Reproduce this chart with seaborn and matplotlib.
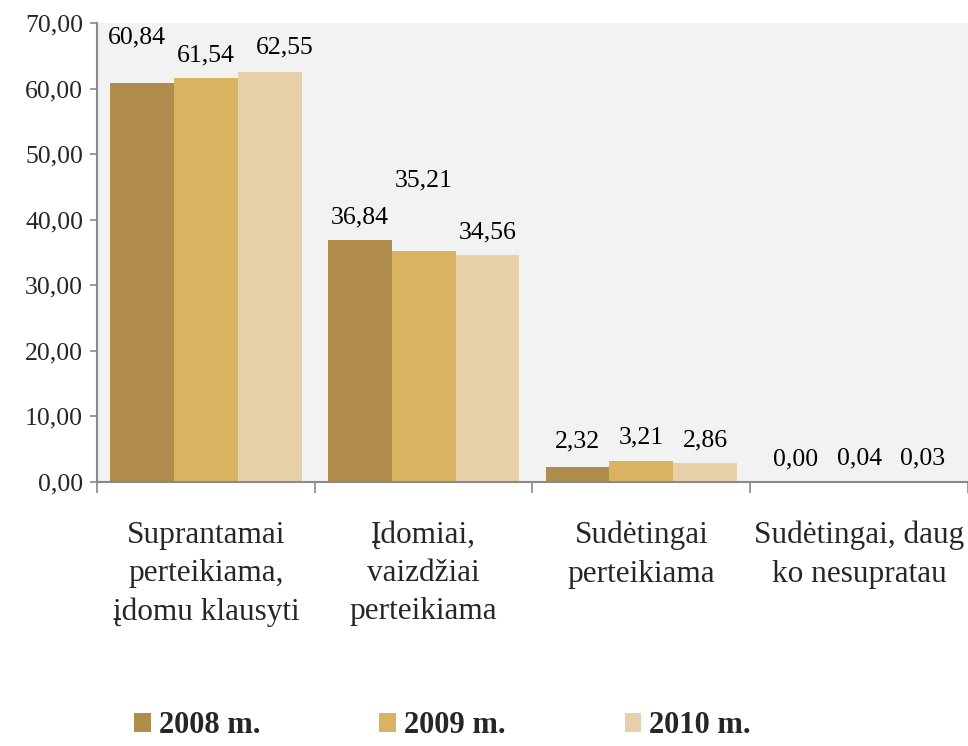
import numpy as np
import pandas as pd
import matplotlib
matplotlib.use("Agg")
import matplotlib.pyplot as plt
from matplotlib.ticker import FuncFormatter, FixedLocator
import seaborn as sns

categories = [
    "Suprantamai\nperteikiama,\nįdomu klausyti",
    "Įdomiai,\nvaizdžiai\nperteikiama",
    "Sudėtingai\nperteikiama",
    "Sudėtingai, daug\nko nesupratau",
]
years = ["2008 m.", "2009 m.", "2010 m."]
values_2008 = [60.84, 36.84, 2.32, 0.00]
values_2009 = [61.54, 35.21, 3.21, 0.04]
values_2010 = [62.55, 34.56, 2.86, 0.03]

colors = ["#B08D4C", "#D9B360", "#E8D0AA"]
# label offsets in pixels (x, y above bar top), per year then category
label_dx = [[-5, 0, 0, 0], [0, 0, 0, 0], [15, 0, 0, 0]]
label_dy = [[40, 17, 19, 17], [17, 65, 17, 17], [18, 17, 17, 17]]

df = pd.DataFrame({
    "cat": categories * 3,
    "year": np.repeat(years, len(categories)),
    "val": values_2008 + values_2009 + values_2010,
})

sns.set_theme(style="white")
plt.rcParams["font.family"] = ["Liberation Serif", "DejaVu Serif"]

fig = plt.figure(figsize=(9.68, 7.46), dpi=100)
ax = fig.add_axes([0.1002, 0.3539, 0.8998, 0.6153])
ax.set_facecolor("#F2F2F2")

sns.barplot(data=df, x="cat", y="val", hue="year", palette=colors,
            width=0.88, gap=0, saturation=1, linewidth=0, ax=ax, legend=True)

for i, cont in enumerate(ax.containers):
    for j, bar in enumerate(cont):
        v = bar.get_height()
        ax.annotate(f"{v:.2f}".replace(".", ","),
                    (bar.get_x() + bar.get_width() / 2, v),
                    xytext=(label_dx[i][j], label_dy[i][j]), textcoords="offset pixels",
                    ha="center", va="baseline", fontsize=18.5, color="black")

ax.set_xlim(-0.5, 3.5)
ax.set_ylim(0, 70)
ax.set_yticks(np.arange(0, 71, 10))
ax.yaxis.set_major_formatter(FuncFormatter(lambda v, p: f"{v:.2f}".replace(".", ",")))
ax.tick_params(axis="y", length=5, width=1.2, color="#898989", labelsize=18.5, pad=5, left=True)
ax.tick_params(axis="x", which="major", length=0, labelsize=22.5, pad=28)
ax.xaxis.set_minor_locator(FixedLocator([-0.5, 0.5, 1.5, 2.5, 3.5]))
ax.tick_params(axis="x", which="minor", length=8, width=1.2, color="#898989", bottom=True)
for lbl in ax.get_xticklabels():
    lbl.set_linespacing(1.42)
ax.set_xlabel("")
ax.set_ylabel("")

for s in ["top", "right"]:
    ax.spines[s].set_visible(False)
for s in ["left", "bottom"]:
    ax.spines[s].set_color("#898989")
    ax.spines[s].set_linewidth(1.5)

handles, labels = ax.get_legend_handles_labels()
ax.get_legend().remove()
fig.legend(handles, labels, loc="center", bbox_to_anchor=(0.457, 0.027), ncol=3,
           frameon=False, handlelength=0.55, handleheight=0.55, handletextpad=0.25,
           columnspacing=3.9, borderpad=0.2, prop={"weight": "bold", "size": 22})

fig.savefig("out.png", dpi=100)
